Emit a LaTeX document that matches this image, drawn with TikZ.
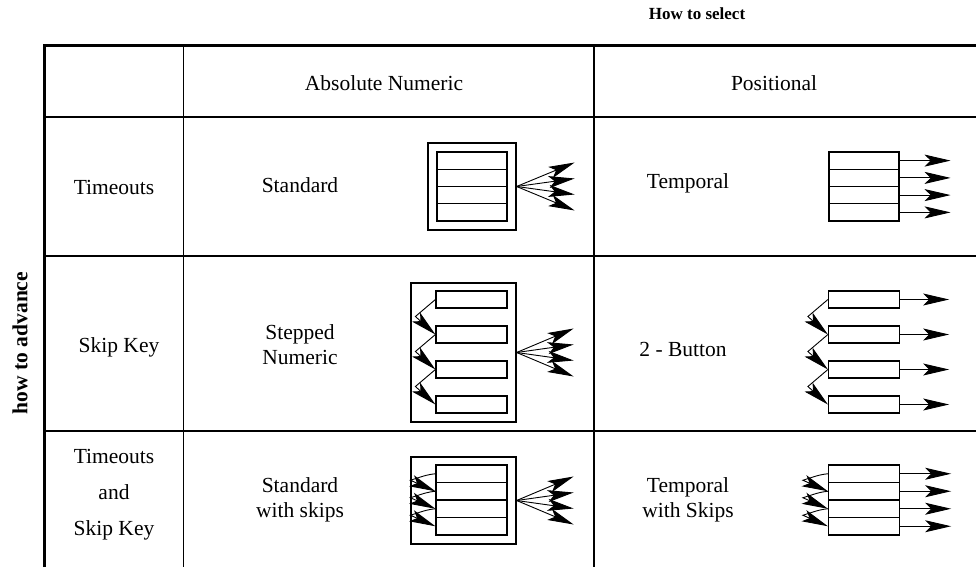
\documentclass[tikz,border=0pt]{standalone}
\usepackage{fontspec}
\setmainfont{Liberation Serif}
\usetikzlibrary{arrows.meta,calc}
\begin{document}
\begin{tikzpicture}[x=1pt,y=-1pt,
  every node/.style={font=\fontsize{21.5}{25}\selectfont, inner sep=0pt},
  grid/.style={line width=1.3pt},
  frame/.style={line width=3pt},
  cell/.style={draw, line width=1.2pt, minimum width=70pt},
  outer/.style={draw, line width=1.2pt},
  arr/.style={line width=0.9pt, -{Stealth[length=26pt,width=12pt,inset=6pt]}},
]
\path[use as bounding box] (0,0) rectangle (976,567);

% table rules
\coordinate (tl) at (44,46);
\draw[grid] (183.5,46) -- (183.5,567);
\draw[grid] (594,46) -- (594,567);
\draw[grid] (44,117) -- (976,117);
\draw[grid] (44,256) -- (976,256);
\draw[grid] (44,431) -- (976,431);
\draw[frame] (44,567) -- (tl) -- (976,46);

% headings
\node[font=\fontsize{17}{20}\selectfont\bfseries] (hSel) at (697,14) {How to select};
\node[rotate=90] (hAdv) at (20,343) {\bfseries how to advance};
\node (cAbs) at (384,83) {Absolute Numeric};
\node (cPos) at (774,83) {Positional};
\node (r1) at (114,187) {Timeouts};
\node (r2) at (119,347) {Skip Key};
\node[align=center, font=\fontsize{21.5}{36}\selectfont] (r3) at (114,495) {Timeouts\\and\\Skip Key};

% cell labels
\node (n11) at (300,185) {Standard};
\node (n12) at (688,183) {Temporal};
\node[align=center] (n21) at (300,345) {Stepped\\Numeric};
\node (n22) at (683,349) {2 - Button};
\node[align=center] (n31) at (300,500) {Standard\\with skips};
\node[align=center] (n32) at (688,500) {Temporal\\with Skips};

% ---- row 1: stacked lists ----
\node[outer, minimum width=88, minimum height=87] (aO) at (472,186.5) {};
\foreach \i/\y in {1/160.6,2/177.9,3/195.1,4/212.4} {
  \node[cell, minimum height=17.25] (a\i) at (472,\y) {};
  \node[cell, minimum height=17.25] (b\i) at (864,\y) {};
}
\foreach \i/\d in {1/-24,2/-8,3/8,4/24} {
  \coordinate (aF\i) at ($(aO.east)+(58,\d)$);
  \draw[arr] (aO.east) -- (aF\i);
  \coordinate (bR\i) at ($(b\i.east)+(51,0)$);
  \draw[arr] (b\i.east) -- (bR\i);
}

% ---- row 2: separate boxes stepped one by one ----
\node[outer, minimum width=105, minimum height=139] (cO) at (463.5,352.5) {};
\foreach \i/\y in {1/299.5,2/334.5,3/369.5,4/404.5} {
  \node[cell, minimum width=71, minimum height=17] (c\i) at (471.5,\y) {};
  \node[cell, minimum width=71, minimum height=17] (d\i) at (864,\y) {};
}
\foreach \i/\d in {1/-24,2/-8,3/8,4/24} {
  \coordinate (cF\i) at ($(cO.east)+(57,\d)$);
  \draw[arr] (cO.east) -- (cF\i);
  \coordinate (dR\i) at ($(d\i.east)+(49,0)$);
  \draw[arr] (d\i.east) -- (dR\i);
}
\foreach \i/\j in {1/2,2/3,3/4} {
  \coordinate (cK\i) at ($(c\j.west)+(-20,-18)$);
  \draw[arr] (c\i.west) -- (cK\i) -- (c\j.west);
  \coordinate (dK\i) at ($(d\j.west)+(-20,-18)$);
  \draw[arr] (d\i.west) -- (dK\i) -- (d\j.west);
}

% ---- row 3: stacked lists with skips ----
\node[outer, minimum width=105, minimum height=87] (eO) at (463.5,500.5) {};
\foreach \i/\y in {1/473.75,2/491.25,3/508.75,4/526.25} {
  \node[cell, minimum width=71, minimum height=17.5] (e\i) at (471.5,\y) {};
  \node[cell, minimum width=71, minimum height=17.5] (f\i) at (864,\y) {};
}
\foreach \i/\d in {1/-24,2/-8,3/8,4/24} {
  \coordinate (eF\i) at ($(eO.east)+(57,\d)$);
  \draw[arr] (eO.east) -- (eF\i);
  \coordinate (fR\i) at ($(f\i.east)+(51,0)$);
  \draw[arr] (f\i.east) -- (fR\i);
}
\foreach \i/\j in {1/2,2/3,3/4} {
  \coordinate (eK\i) at ($(e\j.west)+(-25,-11)$);
  \draw[arr] (e\i.west) .. controls +(-8,1) .. (eK\i) -- (e\j.west);
  \coordinate (fK\i) at ($(f\j.west)+(-25,-11)$);
  \draw[arr] (f\i.west) .. controls +(-8,1) .. (fK\i) -- (f\j.west);
}
\end{tikzpicture}
\end{document}
